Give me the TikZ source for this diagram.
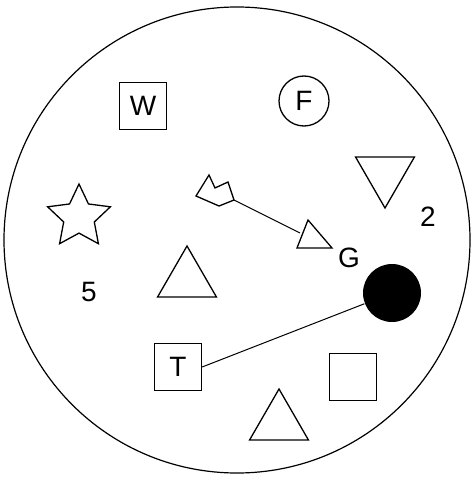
\documentclass[tikz,border=0pt]{standalone}
\usepackage{fontspec}
\setmainfont{Liberation Sans}
\usetikzlibrary{shapes.geometric}

\begin{document}
\begin{tikzpicture}[x=1pt, y=-1pt, line width=1.3pt,
    every node/.style={font=\fontsize{28}{30}\selectfont, inner sep=0pt},
    box/.style={rectangle, draw, minimum size=47pt},
    tri/.style={regular polygon, regular polygon sides=3, draw, minimum size=68pt}]

    \useasboundingbox (0,0) rectangle (473,478);

    % Circle for the field
    \node[circle, draw, line width=1.2pt, minimum size=466pt] (field) at (237,240) {};

    % squares with letters
    \node[box] (W) at (143,106) {W};
    \node[box] (T) at (178,367) {T};
    \node[box] (sq) at (353,377) {};

    % F
    \node[circle, draw, minimum size=50pt] (F) at (304,101) {F};

    % triangles
    \node[tri, shape border rotate=180] (down) at (385,174) {};
    \node[tri] (up) at (187,280) {};
    \node[tri] (low) at (279,423) {};

    % star
    \node[star, star points=5, star point ratio=2.05, draw, minimum size=66pt] (star) at (79,217) {};

    % black ball
    \node[circle, fill=black, minimum size=58pt] (ball) at (392,293) {};
    \draw[line width=1pt] (T.east) -- (ball);

    % numbers and G
    \node (two) at (428,217) {2};
    \node (five) at (89,292) {5};
    \node (G) at (349,258) {G};

    % arrow
    \coordinate (tail) at (234,200);
    \coordinate (nock) at (300,233);
    \draw (196,196) -- (209,175) -- (215,188) -- (228,182) -- (tail) -- (219,206) -- cycle;
    \draw[line width=1pt] (tail) -- (nock);
    \draw (308,220) -- (297,248) -- (332,248) -- cycle;

\end{tikzpicture}
\end{document}
